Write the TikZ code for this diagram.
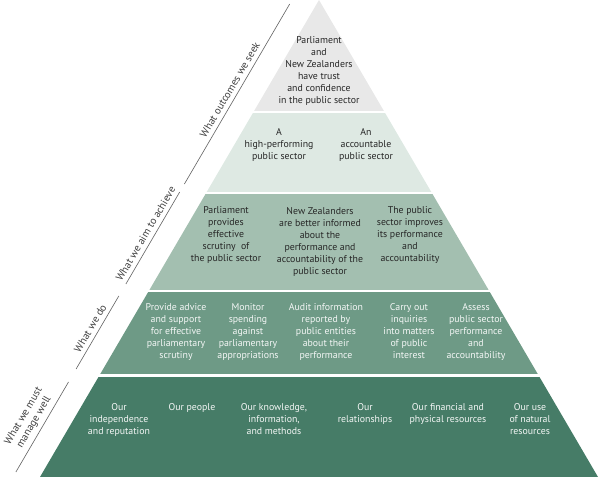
\documentclass[tikz,border=0pt]{standalone}
\usepackage{fontspec}
\setmainfont{PT Sans}
\usepackage{xcolor}
\usepackage{tikz}
\definecolor{tierA}{HTML}{E8E8E8}
\definecolor{tierB}{HTML}{DEE9E3}
\definecolor{tierC}{HTML}{A3BFB0}
\definecolor{tierD}{HTML}{6E9A86}
\definecolor{tierE}{HTML}{467C67}

\begin{document}
\begin{tikzpicture}[x=0.025cm,y=-0.025cm,
  txt/.style={font=\fontsize{7}{8.5}\selectfont,align=center,anchor=north,inner sep=0pt,text=black!85},
  lite/.style={txt,text=white!94!tierE},
  side/.style={draw=black!60,line width=0.45pt},
  sidelab/.style={font=\fontsize{7.5}{8.5}\selectfont,text=black!75,align=center,sloped,above,inner sep=3pt}]
\useasboundingbox (0,0) rectangle (600,477);
\coordinate (apex) at (319,0);
\coordinate (bl) at (40,477);
\coordinate (br) at (598,477);
\begin{scope}
\clip (apex) -- (bl) -- (br) -- cycle;
\fill[tierA] (0,-2) rectangle (600,111);
\fill[tierB] (0,113) rectangle (600,192);
\fill[tierC] (0,194) rectangle (600,290);
\fill[tierD] (0,292) rectangle (600,374);
\fill[tierE] (0,377) rectangle (600,480);
\end{scope}
% outcomes
\node[txt] (trust) at (319,36.5) {Parliament\\and\\New Zealanders\\have trust\\and confidence\\in the public sector};
\node[txt] (perform) at (279,128.5) {A\\high-performing\\public sector};
\node[txt] (account) at (366,128.5) {An\\accountable\\public sector};
% aims
\node[txt] (scrutiny) at (226,206.5) {Parliament\\provides\\effective\\scrutiny\ \ of\\the public sector};
\node[txt] (informed) at (320,207) {New Zealanders\\are better informed\\about the\\performance and\\accountability of the\\public sector};
\node[txt] (improves) at (410,206.5) {The public\\sector improves\\its performance\\and\\accountability};
% what we do
\node[lite] (advice) at (176,303.5) {Provide advice\\and support\\for effective\\parliamentary\\scrutiny};
\node[lite] (spending) at (248,303.5) {Monitor\\spending\\against\\parliamentary\\appropriations};
\node[lite] (audit) at (326,303.5) {Audit information\\reported by\\public entities\\about their\\performance};
\node[lite] (inquiry) at (409,303.5) {Carry out\\inquiries\\into matters\\of public\\interest};
\node[lite] (assess) at (476,303.5) {Assess\\public sector\\performance\\and\\accountability};
% manage well
\node[lite] (indep) at (119,403.5) {Our\\independence\\and reputation};
\node[lite] (people) at (192,403.5) {Our people};
\node[lite] (knowledge) at (274,403.5) {Our knowledge,\\information,\\and methods};
\node[lite] (relations) at (365,403.5) {Our\\relationships};
\node[lite] (finance) at (448,403.5) {Our financial and\\physical resources};
\node[lite] (nature) at (530,403.5) {Our use\\of natural\\resources};
% side labels
\coordinate (seekB) at (184.4,184);
\coordinate (seekT) at (289.7,4);
\coordinate (aimB) at (125.9,284);
\coordinate (aimT) at (179.7,192);
\coordinate (doB) at (76.1,369);
\coordinate (doT) at (118.8,296);
\coordinate (wellB) at (15.9,472);
\coordinate (wellT) at (68.5,382);
\draw[side] (seekB) -- node[sidelab] {What outcomes we seek} (seekT);
\draw[side] (aimB) -- node[sidelab] {What we aim to achieve} (aimT);
\draw[side] (doB) -- node[sidelab] {What we do} (doT);
\draw[side] (wellB) -- node[sidelab] {What we must\\manage well} (wellT);
\end{tikzpicture}
\end{document}
